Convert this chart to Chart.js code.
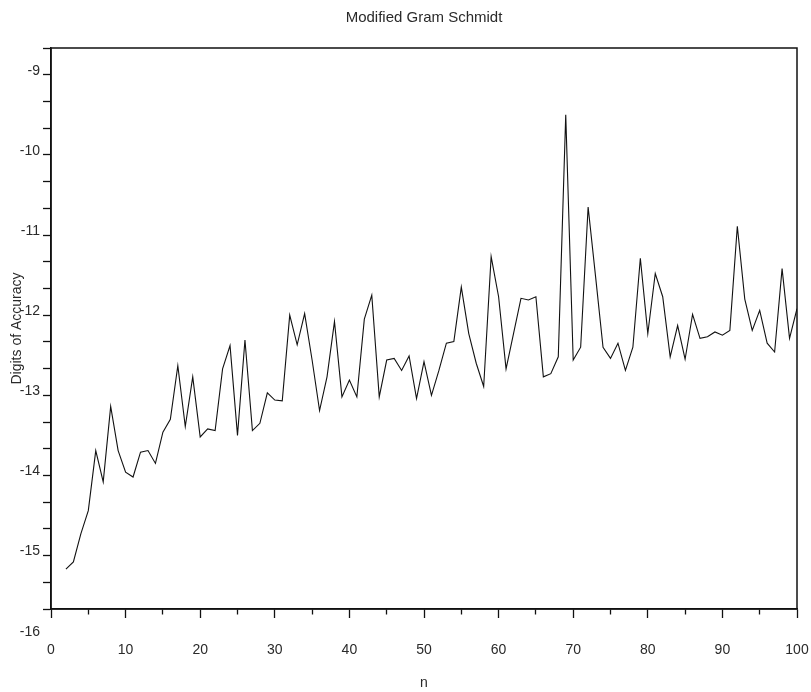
<!DOCTYPE html>
<html>
<head>
<meta charset="utf-8">
<script src="https://cdn.jsdelivr.net/npm/chart.js@4/dist/chart.umd.min.js"></script>
<style>
  html, body { margin: 0; padding: 0; background: #ffffff; }
  #wrap { width: 811px; height: 692px; position: relative; }
</style>
</head>
<body>
<div id="wrap"><canvas id="c" width="811" height="692"></canvas></div>
<script>
// ---- data ----
const chartTitle = 'Modified Gram Schmidt';
const xTitle = 'n';
const yTitle = 'Digits of Accuracy';

const nValues = [
  2, 3, 4, 5, 6, 7, 8, 9, 10,
  11, 12, 13, 14, 15, 16, 17, 18, 19, 20,
  21, 22, 23, 24, 25, 26, 27, 28, 29, 30,
  31, 32, 33, 34, 35, 36, 37, 38, 39, 40,
  41, 42, 43, 44, 45, 46, 47, 48, 49, 50,
  51, 52, 53, 54, 55, 56, 57, 58, 59, 60,
  61, 62, 63, 64, 65, 66, 67, 68, 69, 70,
  71, 72, 73, 74, 75, 76, 77, 78, 79, 80,
  81, 82, 83, 84, 85, 86, 87, 88, 89, 90,
  91, 92, 93, 94, 95, 96, 97, 98, 99, 100
];

const digitsOfAccuracy = [
  -15.17, -15.08, -14.73, -14.44, -13.69, -14.08, -13.14, -13.69, -13.96,
  -14.02, -13.71, -13.69, -13.85, -13.46, -13.30, -12.63, -13.39, -12.77, -13.52,
  -13.42, -13.44, -12.67, -12.38, -13.50, -12.31, -13.44, -13.35, -12.97, -13.06,
  -13.07, -12.00, -12.37, -11.98, -12.56, -13.19, -12.77, -12.08, -13.02, -12.81,
  -13.02, -12.05, -11.75, -13.02, -12.56, -12.54, -12.69, -12.51, -13.04, -12.58,
  -13.00, -12.69, -12.35, -12.33, -11.65, -12.23, -12.60, -12.89, -11.27, -11.77,
  -12.67, -12.23, -11.79, -11.81, -11.77, -12.77, -12.73, -12.52, -9.50, -12.56,
  -12.40, -10.65, -11.52, -12.40, -12.54, -12.35, -12.69, -12.40, -11.29, -12.23,
  -11.48, -11.77, -12.52, -12.13, -12.55, -11.99, -12.29, -12.27, -12.21, -12.25,
  -12.19, -10.89, -11.80, -12.19, -11.94, -12.35, -12.46, -11.42, -12.29, -11.92
];

const xTickLabels = ['0', '10', '20', '30', '40', '50', '60', '70', '80', '90', '100'];
const yTickLabels = ['-9', '-10', '-11', '-12', '-13', '-14', '-15', '-16'];

// ---- chart ----
const ink = '#111111';
const textInk = '#2a2a2a';
const fontFamily = '"Liberation Sans", Arial, sans-serif';

const framePlugin = {
  id: 'frame',
  afterDraw(chart) {
    const a = chart.chartArea;
    const ctx = chart.ctx;
    ctx.save();
    ctx.strokeStyle = ink;
    ctx.lineWidth = 1.5;
    ctx.strokeRect(a.left, a.top, a.right - a.left, a.bottom - a.top);
    ctx.restore();
  }
};

const isInt = v => Math.abs(v - Math.round(v)) < 1e-6;

new Chart(document.getElementById('c'), {
  type: 'line',
  data: {
    datasets: [{
      data: nValues.map((n, i) => ({ x: n, y: digitsOfAccuracy[i] })),
      borderColor: ink,
      borderWidth: 1.1,
      pointRadius: 0,
      tension: 0,
      fill: false
    }]
  },
  options: {
    responsive: false,
    animation: false,
    devicePixelRatio: 1,
    layout: { padding: { left: 0, right: 14, top: 0, bottom: 0 } },
    plugins: {
      legend: { display: false },
      tooltip: { enabled: false },
      title: {
        display: true,
        text: chartTitle,
        fullSize: false,
        color: textInk,
        font: { family: fontFamily, size: 15, weight: 'normal' },
        padding: { top: 9, bottom: 21 }
      }
    },
    scales: {
      x: {
        type: 'linear',
        position: 'bottom',
        min: 0,
        max: 100,
        afterFit(scale) {
          scale.height = 83;
          scale.paddingLeft = 0;
          scale.paddingRight = 0;
        },
        border: { display: true, color: ink, width: 1.5 },
        grid: {
          drawOnChartArea: false,
          drawTicks: true,
          tickLength: 9,
          tickColor: ink,
          tickWidth: 1.3,
          tickBorderDash: ctx => (ctx.tick && isInt(ctx.tick.value / 10)) ? [] : [5, 40]
        },
        ticks: {
          stepSize: 5,
          autoSkip: false,
          maxRotation: 0,
          padding: 24,
          color: textInk,
          font: { family: fontFamily, size: 14 },
          callback: v => isInt(v / 10) ? xTickLabels[Math.round(v / 10)] : ''
        },
        title: {
          display: true,
          text: xTitle,
          color: textInk,
          font: { family: fontFamily, size: 14 },
          padding: { top: 0, bottom: 0 }
        }
      },
      y: {
        type: 'linear',
        position: 'left',
        min: -15 - 2 / 3,
        max: -8 - 2 / 3,
        afterFit(scale) {
          scale.width = 51;
          scale.paddingTop = 0;
          scale.paddingBottom = 0;
        },
        afterBuildTicks(scale) {
          const t = [];
          for (let k = 0; k <= 22; k++) {
            t.push({ value: -16 + k / 3 });
          }
          scale.ticks = t;
        },
        border: { display: true, color: ink, width: 1.5 },
        grid: {
          drawOnChartArea: false,
          drawTicks: true,
          tickLength: 8,
          tickWidth: 1.3,
          tickColor: ctx => (ctx.tick && ctx.tick.value < -15.8) ? 'rgba(0,0,0,0)' : ink
        },
        ticks: {
          autoSkip: false,
          padding: 3,
          labelOffset: -4,
          color: textInk,
          font: { family: fontFamily, size: 14 },
          callback: v => isInt(v) ? yTickLabels[Math.round(-9 - v)] : ''
        },
        title: {
          display: true,
          text: yTitle,
          color: textInk,
          font: { family: fontFamily, size: 14 },
          padding: { top: 9, bottom: 0 }
        }
      }
    }
  },
  plugins: [framePlugin]
});
</script>
</body>
</html>
